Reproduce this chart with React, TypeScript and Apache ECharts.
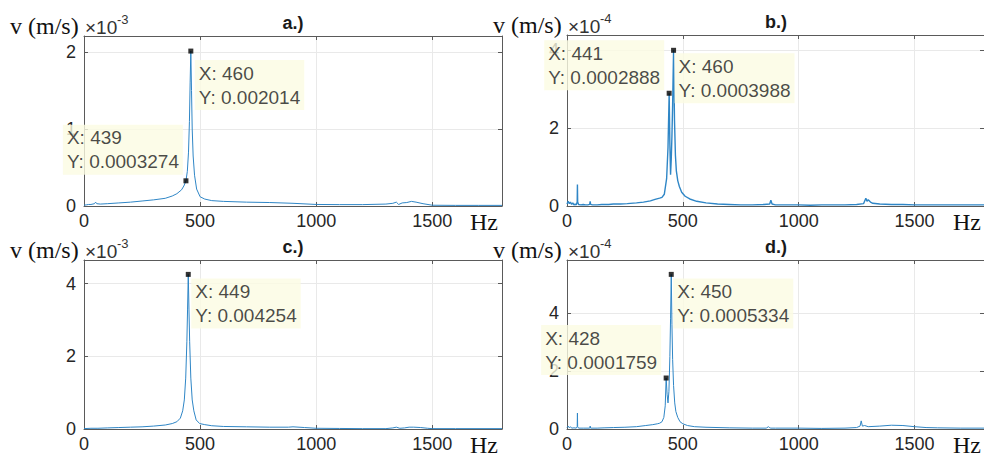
import React, { useEffect, useRef } from "react";
import * as echarts from "echarts";

// ---------------- data (frequency in Hz, amplitude in units of the panel's scale) ----------------
const HZ_A = [0, 10, 20, 30, 45, 50, 55, 70, 100, 150, 200, 250, 300, 350, 380, 400, 420, 430, 439, 445, 450, 454, 457, 460, 463, 466, 470, 476, 485, 500, 520, 550, 600, 700, 800, 900, 1000, 1100, 1200, 1300, 1330, 1345, 1355, 1370, 1390, 1410, 1430, 1460, 1500, 1600, 1700, 1800];
const AMP_A = [0.01, 0.015, 0.02, 0.02, 0.03, 0.05, 0.03, 0.025, 0.03, 0.04, 0.05, 0.065, 0.08, 0.1, 0.13, 0.16, 0.21, 0.26, 0.3274, 0.45, 0.7, 1.1, 1.6, 2.014, 1.5, 1.0, 0.65, 0.4, 0.22, 0.12, 0.09, 0.07, 0.06, 0.05, 0.045, 0.035, 0.02, 0.018, 0.018, 0.025, 0.035, 0.05, 0.02, 0.04, 0.045, 0.06, 0.05, 0.03, 0.01, 0.008, 0.008, 0.008];
const TIPS_A = [439, 460];

const HZ_B = [0, 5, 10, 15, 20, 25, 30, 35, 40, 44, 45, 46, 50, 60, 70, 80, 90, 98, 100, 102, 110, 130, 150, 180, 200, 230, 260, 300, 330, 360, 380, 400, 410, 420, 430, 436, 441, 444, 447, 450, 453, 456, 460, 464, 468, 472, 478, 485, 495, 510, 530, 560, 600, 650, 700, 750, 800, 850, 875, 880, 885, 900, 950, 1000, 1050, 1100, 1150, 1200, 1250, 1280, 1290, 1295, 1300, 1310, 1320, 1350, 1400, 1450, 1500, 1550, 1600, 1700, 1800];
const AMP_B = [0.05, 0.12, 0.06, 0.1, 0.04, 0.08, 0.03, 0.05, 0.03, 0.1, 0.55, 0.1, 0.04, 0.03, 0.04, 0.03, 0.03, 0.04, 0.12, 0.04, 0.03, 0.03, 0.04, 0.04, 0.05, 0.05, 0.06, 0.08, 0.1, 0.13, 0.17, 0.2, 0.22, 0.3, 0.7, 1.5, 2.888, 1.6, 0.8, 1.2, 1.8, 2.6, 3.988, 2.2, 1.3, 0.9, 0.65, 0.5, 0.35, 0.25, 0.18, 0.12, 0.08, 0.05, 0.04, 0.03, 0.03, 0.04, 0.05, 0.15, 0.05, 0.03, 0.03, 0.03, 0.02, 0.03, 0.03, 0.03, 0.04, 0.06, 0.2, 0.12, 0.16, 0.1, 0.07, 0.05, 0.04, 0.04, 0.03, 0.03, 0.03, 0.03, 0.03];
const TIPS_B = [441, 460];

const HZ_C = [0, 30, 60, 100, 150, 200, 250, 300, 350, 380, 400, 415, 425, 432, 438, 443, 446, 449, 452, 455, 460, 466, 473, 483, 498, 520, 550, 600, 700, 800, 880, 900, 950, 1000, 1100, 1200, 1300, 1330, 1345, 1360, 1380, 1400, 1420, 1450, 1480, 1500, 1600, 1800];
const AMP_C = [0.01, 0.02, 0.02, 0.03, 0.04, 0.05, 0.06, 0.08, 0.11, 0.15, 0.2, 0.3, 0.5, 0.8, 1.4, 2.4, 3.3, 4.254, 3.3, 2.4, 1.4, 0.8, 0.5, 0.25, 0.15, 0.12, 0.09, 0.07, 0.06, 0.05, 0.05, 0.06, 0.04, 0.02, 0.015, 0.01, 0.01, 0.03, 0.05, 0.02, 0.03, 0.05, 0.05, 0.04, 0.02, 0.01, 0.01, 0.01];
const TIPS_C = [449];

const HZ_D = [0, 5, 10, 15, 20, 30, 40, 44, 45, 46, 50, 70, 98, 100, 102, 130, 160, 200, 250, 300, 340, 370, 390, 400, 410, 418, 424, 428, 432, 436, 440, 444, 447, 450, 453, 456, 460, 465, 470, 478, 488, 500, 520, 550, 600, 700, 800, 860, 870, 875, 880, 900, 1000, 1100, 1200, 1250, 1265, 1270, 1275, 1285, 1300, 1350, 1400, 1450, 1500, 1550, 1600, 1700, 1800];
const AMP_D = [0.05, 0.1, 0.04, 0.08, 0.03, 0.04, 0.03, 0.08, 0.55, 0.08, 0.03, 0.03, 0.03, 0.1, 0.03, 0.03, 0.04, 0.05, 0.06, 0.08, 0.12, 0.15, 0.18, 0.2, 0.25, 0.4, 0.8, 1.759, 1.2, 0.9, 1.3, 2.5, 3.8, 5.334, 3.6, 2.4, 1.5, 0.9, 0.6, 0.4, 0.25, 0.18, 0.12, 0.08, 0.06, 0.04, 0.03, 0.03, 0.08, 0.04, 0.03, 0.03, 0.03, 0.02, 0.03, 0.05, 0.1, 0.28, 0.1, 0.12, 0.08, 0.1, 0.13, 0.12, 0.08, 0.05, 0.04, 0.03, 0.03];
const TIPS_D = [428, 450];

const X_TICKS = [0, 500, 1000, 1500];
const TITLES = ["a.)", "b.)", "c.)", "d.)"];
const EXPONENTS = ["-3", "-4", "-3", "-4"];
const SCALES = [1e-3, 1e-4, 1e-3, 1e-4];
const Y_TICKS = [[0, 1, 2], [0, 2, 4], [0, 2, 4], [0, 2, 4]];
const Y_MAX = [2.21, 4.38, 4.65, 5.83];

// ---------------- layout / styles ----------------
const SANS = "'Liberation Sans', Arial, Helvetica, sans-serif";
const SERIF = "'Liberation Serif', 'Times New Roman', serif";
const AXIS_COLOR = "#5a5a5a";
const TEXT_COLOR = "#262626";
const MAJOR = "#d8d8d8";
const MINOR = "#e9e9e9";
const LINE_COLOR = "#2f86c6";
const TIP_FONT = 19;
const TIP_LH = 24;
const TIP_PAD_X = 4;
const TIP_PAD_Y = 1;

// corner: "tl" = box up-left of point (dx,dy = box right/bottom offset), "br" = box down-right (dx,dy = box left/top offset)
type Tip = { corner: "tl" | "br"; dx: number; dy: number };
const PANELS = [
  { hz: HZ_A, amp: AMP_A, tips: TIPS_A, left: 84, top: 36, height: 170, minorDiv: 5, minorStep: 0.2, lineW: 1,
    tipStyle: [{ corner: "tl", dx: -3, dy: -6 }, { corner: "br", dx: 4, dy: 9 }] as Tip[] },
  { hz: HZ_B, amp: AMP_B, tips: TIPS_B, left: 567, top: 35, height: 171, minorDiv: 4, minorStep: 0.5, lineW: 1.4,
    tipStyle: [{ corner: "tl", dx: -5, dy: -3 }, { corner: "br", dx: 1, dy: 3 }] as Tip[] },
  { hz: HZ_C, amp: AMP_C, tips: TIPS_C, left: 84, top: 260, height: 169, minorDiv: 4, minorStep: 0.5, lineW: 1,
    tipStyle: [{ corner: "br", dx: 3, dy: 4 }] as Tip[] },
  { hz: HZ_D, amp: AMP_D, tips: TIPS_D, left: 567, top: 260, height: 169, minorDiv: 4, minorStep: 0.5, lineW: 1,
    tipStyle: [{ corner: "tl", dx: -5, dy: -3 }, { corner: "br", dx: 2, dy: 4 }] as Tip[] },
];
const PLOT_W = 418;

let measureCtx: CanvasRenderingContext2D | null = null;
function textWidth(s: string, font: string) {
  if (!measureCtx) measureCtx = document.createElement("canvas").getContext("2d");
  if (!measureCtx) return s.length * 10;
  measureCtx.font = font;
  return measureCtx.measureText(s).width;
}

function buildOption() {
  const grid: any[] = [];
  const xAxis: any[] = [];
  const yAxis: any[] = [];
  const series: any[] = [];
  const graphic: any[] = [];

  PANELS.forEach((p, i) => {
    const scale = SCALES[i];
    grid.push({ left: p.left, top: p.top, width: PLOT_W, height: p.height, containLabel: false, show: false });
    const splitColors = [MAJOR];
    for (let k = 1; k < p.minorDiv; k++) splitColors.push(MINOR);
    const xSplit = [MAJOR, MINOR, MINOR, MINOR, MINOR];

    xAxis.push({
      type: "value", gridIndex: i, position: "bottom", min: 0, max: 1800, interval: 100,
      axisLine: { show: true, onZero: false, lineStyle: { color: AXIS_COLOR, width: 1 } },
      axisTick: { show: true, inside: true, length: 4, customValues: X_TICKS, lineStyle: { color: AXIS_COLOR } },
      axisLabel: {
        show: true, customValues: X_TICKS, fontFamily: SANS, fontSize: 18, color: TEXT_COLOR, margin: 6,
        formatter: (v: number) => String(Math.round(v)),
      },
      splitLine: { show: true, lineStyle: { color: xSplit, width: 1 } },
    });
    xAxis.push({
      type: "value", gridIndex: i, position: "top", min: 0, max: 1800, interval: 500,
      axisLine: { show: true, onZero: false, lineStyle: { color: AXIS_COLOR, width: 1 } },
      axisTick: { show: true, inside: true, length: 4, customValues: X_TICKS, lineStyle: { color: AXIS_COLOR } },
      axisLabel: { show: false }, splitLine: { show: false },
    });
    const yTicks = Y_TICKS[i].map((v) => v * scale);
    yAxis.push({
      type: "value", gridIndex: i, position: "left", min: 0, max: Y_MAX[i] * scale, interval: p.minorStep * scale,
      axisLine: { show: true, onZero: false, lineStyle: { color: AXIS_COLOR, width: 1 } },
      axisTick: { show: true, inside: true, length: 4, customValues: yTicks, lineStyle: { color: AXIS_COLOR } },
      axisLabel: {
        show: true, customValues: yTicks, fontFamily: SANS, fontSize: 18, color: TEXT_COLOR, margin: 8,
        formatter: (v: number) => String(Math.round(v / scale)),
      },
      splitLine: { show: true, lineStyle: { color: splitColors, width: 1 } },
    });
    yAxis.push({
      type: "value", gridIndex: i, position: "right", min: 0, max: Y_MAX[i] * scale, interval: p.minorStep * scale,
      axisLine: { show: true, onZero: false, lineStyle: { color: AXIS_COLOR, width: 1 } },
      axisTick: { show: true, inside: true, length: 4, customValues: yTicks, lineStyle: { color: AXIS_COLOR } },
      axisLabel: { show: false }, splitLine: { show: false },
    });

    series.push({
      type: "line", xAxisIndex: 2 * i, yAxisIndex: 2 * i, showSymbol: false, symbol: "none",
      data: p.hz.map((h, k) => [h, p.amp[k] * scale]),
      lineStyle: { color: LINE_COLOR, width: p.lineW }, z: 3, silent: true,
    });

    series.push({
      type: "scatter", xAxisIndex: 2 * i, yAxisIndex: 2 * i, symbol: "rect", symbolSize: 5, z: 10,
      itemStyle: { color: "#000" }, silent: true, clip: false,
      data: p.tips.map((h, k) => {
        const y = p.amp[p.hz.indexOf(h)] * scale;
        const st = p.tipStyle[k];
        const l1 = `X: ${h}`;
        const l2 = `Y: ${Number(y.toPrecision(4)).toString()}`;
        const font = `${TIP_FONT}px ${SANS}`;
        const w = Math.max(textWidth(l1, font), textWidth(l2, font)) + 2 * TIP_PAD_X;
        const hgt = 2 * TIP_LH + 2 * TIP_PAD_Y;
        // label position is relative to the 5x5 symbol's top-left (point - 2.5)
        const pos = st.corner === "br" ? [st.dx + 2.5, st.dy + 2.5] : [st.dx + 2.5 - w, st.dy + 2.5 - hgt];
        return {
          value: [h, y],
          label: {
            show: true, position: pos, align: "left", verticalAlign: "top",
            formatter: `${l1}\n${l2}`,
            backgroundColor: "#fbfbe2", padding: [TIP_PAD_Y, TIP_PAD_X, TIP_PAD_Y, TIP_PAD_X], lineHeight: TIP_LH,
            fontFamily: SANS, fontSize: TIP_FONT, color: "#1a1a1a",
          },
        };
      }),
    });

    const cx = p.left + PLOT_W / 2;
    const rowY = p.top;
    graphic.push({
      type: "text", x: cx, y: rowY - 13, z: 20,
      style: { text: TITLES[i], font: `bold 18px ${SANS}`, fill: "#1a1a1a", textAlign: "center", textVerticalAlign: "middle" },
    });
    graphic.push({
      type: "text", x: p.left - 74, y: rowY - 10, z: 20,
      style: { text: "v (m/s)", font: `24px ${SERIF}`, fill: "#111", textAlign: "left", textVerticalAlign: "middle" },
    });
    graphic.push({
      type: "text", x: p.left + 1, y: rowY - 9, z: 20,
      style: { text: "\u00d710", font: `19px ${SANS}`, fill: "#333", textAlign: "left", textVerticalAlign: "middle" },
    });
    graphic.push({
      type: "text", x: p.left + 33, y: rowY - 17, z: 20,
      style: { text: EXPONENTS[i], font: `13px ${SANS}`, fill: "#333", textAlign: "left", textVerticalAlign: "middle" },
    });
    graphic.push({
      type: "text", x: p.left + 386, y: p.top + p.height + 16, z: 20,
      style: { text: "Hz", font: `24px ${SERIF}`, fill: "#111", textAlign: "left", textVerticalAlign: "middle" },
    });
  });

  return { animation: false, backgroundColor: "#ffffff", grid, xAxis, yAxis, series, graphic };
}

export default function App() {
  const ref = useRef<HTMLDivElement>(null);
  useEffect(() => {
    if (!ref.current) return;
    const chart = echarts.init(ref.current, undefined, { renderer: "svg" });
    chart.setOption(buildOption() as any);
    return () => chart.dispose();
  }, []);
  return <div ref={ref} style={{ position: "absolute", left: 0, top: 0, width: 984, height: 457, background: "#fff" }} />;
}
